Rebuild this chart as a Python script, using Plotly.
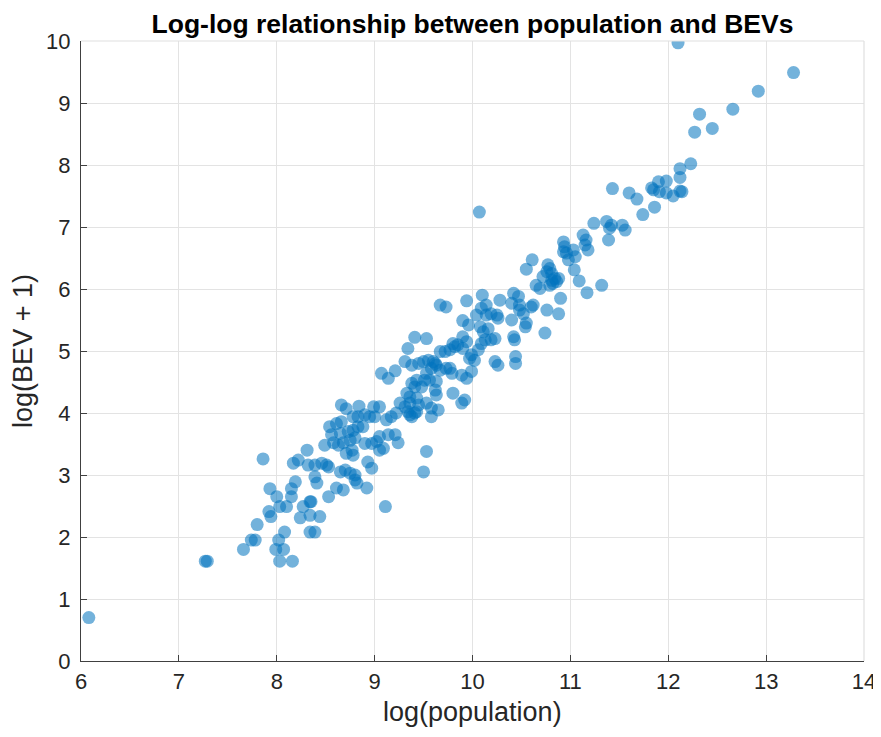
import plotly.graph_objects as go

log_population = [
    6.08, 7.27, 7.29, 7.66, 7.74, 7.78, 7.80, 7.86, 7.93, 7.94, 7.92, 8.00, 8.02, 7.99, 8.03, 8.07, 8.08, 8.03, 8.10, 8.16,
    8.15, 8.15, 8.19, 8.17, 8.22, 8.34, 8.39, 8.24,
    8.31, 8.49, 8.54, 8.66, 8.71, 8.84, 8.99, 9.05, 8.66, 8.61, 8.78, 8.83, 8.90, 8.95, 9.00, 9.12, 9.17, 9.22,
    8.56, 8.65, 8.73, 8.78, 8.83, 8.88, 8.58, 8.63, 8.68, 8.75, 8.80, 8.90, 8.97, 9.02, 9.05, 9.14, 9.21, 9.24,
    9.05, 9.09, 8.93, 8.97, 8.77, 8.78, 8.71, 8.39, 8.46, 8.51, 8.53, 8.32, 8.39, 8.41, 8.65, 8.70, 8.75, 8.80,
    8.61, 8.68, 8.80, 8.82, 8.92, 8.53, 8.34, 8.35, 8.27, 8.34, 8.44, 9.11, 9.53, 9.50,
    9.07, 9.14, 9.21, 9.26, 9.31, 9.36, 9.34, 9.41, 9.38, 9.36, 9.45, 9.43, 9.53, 9.58, 9.65, 9.58,
    9.33, 9.36, 9.43, 9.41, 9.38, 9.43, 9.48, 9.51, 9.53, 9.58, 9.62, 9.31, 9.38, 9.45, 9.50, 9.55, 9.60, 9.63,
    9.56, 9.63, 9.62, 9.63, 9.67, 9.73, 9.79, 9.77, 9.80, 9.89, 9.92, 9.89, 9.94, 9.99,
    9.67, 9.72, 9.77, 9.82, 9.80, 9.85, 9.90, 9.97, 10.02, 9.99, 9.90, 9.94, 9.34, 9.41, 9.53,
    9.67, 9.73, 9.94, 9.90, 9.96, 10.04, 10.09, 10.14, 10.10, 10.08, 10.11, 10.16, 10.19, 10.06, 10.09, 10.13,
    10.23, 10.26, 10.23, 10.28, 10.25, 10.26, 10.19, 10.14, 10.40, 10.43, 10.44, 10.44, 10.42,
    10.40, 10.42, 10.47, 10.48, 10.52, 10.48, 10.54, 10.55, 10.60, 10.62, 10.76, 10.74, 10.65, 10.79, 10.88,
    10.07, 11.43, 11.60, 11.68, 11.74, 11.86,
    11.83, 11.85, 11.90, 11.98, 11.91, 11.98, 12.05, 12.12, 12.14,
    11.24, 11.37, 11.40, 11.42, 11.53, 11.56, 11.39, 11.13, 11.16, 11.15, 11.18,
    10.93, 10.94, 11.03, 11.05, 10.96, 10.98, 10.93, 11.04, 11.09, 11.17, 11.32,
    10.61, 10.55, 10.77, 10.79, 10.76, 10.81, 10.84, 10.86, 10.82, 10.81, 10.88, 10.72, 10.69, 10.90,
    12.10, 13.28, 12.92, 12.66, 12.32, 12.27, 12.45, 12.23, 12.12, 12.12,
]

log_bev_plus_1 = [
    0.70, 1.61, 1.61, 1.80, 1.95, 1.95, 2.20, 3.26, 2.78, 2.33, 2.41, 2.65, 1.95, 1.80, 1.61, 1.80, 2.08, 2.49, 2.49, 1.61,
    2.65, 2.78, 2.89, 3.19, 3.24, 2.08, 2.08, 2.31,
    3.40, 3.48, 3.78, 4.13, 4.07, 4.11, 4.10, 4.10, 3.86, 3.83, 3.94, 3.94, 3.97, 3.94, 3.94, 3.89, 3.94, 4.00,
    3.65, 3.67, 3.70, 3.72, 3.78, 3.78, 3.52, 3.48, 3.52, 3.56, 3.60, 3.51, 3.51, 3.54, 3.62, 3.65, 3.65, 3.52,
    3.40, 3.43, 3.21, 3.11, 3.40, 3.32, 3.35, 3.16, 3.19, 3.16, 3.13, 3.16, 2.97, 2.87, 3.05, 3.08, 3.03, 3.00,
    2.79, 2.76, 2.92, 2.87, 2.79, 2.65, 2.57, 2.57, 2.49, 2.35, 2.33, 2.49, 3.38, 3.05,
    4.64, 4.56, 4.68, 4.16, 4.10, 4.16, 4.02, 4.00, 3.94, 3.97, 4.13, 4.02, 4.16, 4.08, 4.05, 3.94,
    4.32, 4.26, 4.24, 4.42, 4.48, 4.53, 4.42, 4.53, 4.64, 4.72, 4.80, 4.83, 4.77, 4.80, 4.83, 4.85, 4.83, 4.77,
    4.53, 4.51, 4.37, 4.29, 4.69, 4.72, 4.64, 4.72, 4.32, 4.16, 4.21, 4.61, 4.56, 4.67,
    4.99, 4.99, 5.02, 5.07, 5.12, 5.10, 5.04, 4.88, 4.85, 4.94, 5.23, 5.15, 5.04, 5.22, 5.20,
    5.74, 5.71, 5.81, 5.49, 5.42, 5.58, 5.69, 5.74, 5.90, 5.39, 5.31, 5.36, 5.18, 5.02, 5.12, 5.18,
    4.83, 4.77, 5.20, 5.82, 5.58, 5.53, 5.60, 5.58, 5.50, 5.18, 4.91, 4.80, 5.23,
    5.77, 5.93, 5.88, 5.74, 5.60, 5.66, 5.39, 5.45, 5.71, 5.74, 5.66, 5.29, 6.06, 6.06, 5.60,
    7.24, 7.62, 7.55, 7.45, 7.20, 7.32,
    7.63, 7.60, 7.73, 7.74, 7.57, 7.55, 7.50, 7.58, 7.57,
    7.06, 7.09, 6.98, 7.03, 7.03, 6.95, 6.79, 6.87, 6.79, 6.71, 6.63,
    6.76, 6.68, 6.63, 6.52, 6.58, 6.47, 6.60, 6.31, 6.13, 5.94, 6.06,
    6.47, 6.32, 6.39, 6.33, 6.28, 6.25, 6.17, 6.12, 6.09, 6.14, 6.17, 6.20, 6.01, 5.85,
    9.97, 9.49, 9.19, 8.90, 8.82, 8.53, 8.59, 8.02, 7.94, 7.80,
]

x_ticks = [6, 7, 8, 9, 10, 11, 12, 13, 14]
y_ticks = [0, 1, 2, 3, 4, 5, 6, 7, 8, 9, 10]

FONT = "Liberation Sans, Arial, Helvetica, sans-serif"
AX = "#262626"
GRID = "#e3e3e3"

# page body has an 8px margin; the figure is sized/offset to compensate
W, H = 873, 721

fig = go.Figure()
fig.add_trace(go.Scatter(
    x=log_population, y=log_bev_plus_1, mode="markers",
    marker=dict(size=13, color="#0072BD", opacity=0.55, line=dict(width=0)),
    showlegend=False, hoverinfo="x+y",
))

axis_common = dict(
    showgrid=True, gridcolor=GRID, gridwidth=1,
    showline=True, linecolor="#404040", linewidth=1.2,
    ticks="inside", ticklen=6, tickcolor="#404040", tickwidth=1.2,
    tickfont=dict(family=FONT, size=22, color=AX),
    zeroline=False, mirror=False, automargin=False,
)

fig.update_layout(
    width=W, height=H,
    margin=dict(l=73, r=17, t=33, b=68, autoexpand=False),
    paper_bgcolor="white", plot_bgcolor="white",
    font=dict(family=FONT, color=AX),
    title=dict(
        text="<b>Log-log relationship between population and BEVs</b>",
        font=dict(family=FONT, size=26.5, color="#000000"),
        x=464.5 / W, xanchor="center", xref="container",
        y=1 - 16 / H, yanchor="middle", yref="container", automargin=False,
    ),
    xaxis=dict(range=[6, 14], tickvals=x_ticks, ticktext=[str(v) for v in x_ticks],
               **axis_common),
    yaxis=dict(range=[0, 10], tickvals=y_ticks, ticktext=[str(v) for v in y_ticks],
               title=dict(text="log(BEV + 1)", font=dict(family=FONT, size=27, color=AX), standoff=18),
               ticklabelstandoff=5,
               **axis_common),
    annotations=[
        dict(text="log(population)", xref="paper", yref="paper", x=0.5, y=0,
             xanchor="center", yanchor="middle", yshift=-51, showarrow=False,
             borderpad=0, font=dict(family=FONT, size=27, color=AX)),
    ],
    shapes=[
        dict(type="line", xref="x domain", yref="y domain", x0=0, x1=1, y0=1, y1=1,
             line=dict(color="#e0e0e0", width=1.2)),
        dict(type="line", xref="x domain", yref="y domain", x0=1, x1=1, y0=0, y1=1,
             line=dict(color="#e0e0e0", width=1.2)),
    ],
)

fig.write_html("out.html")
